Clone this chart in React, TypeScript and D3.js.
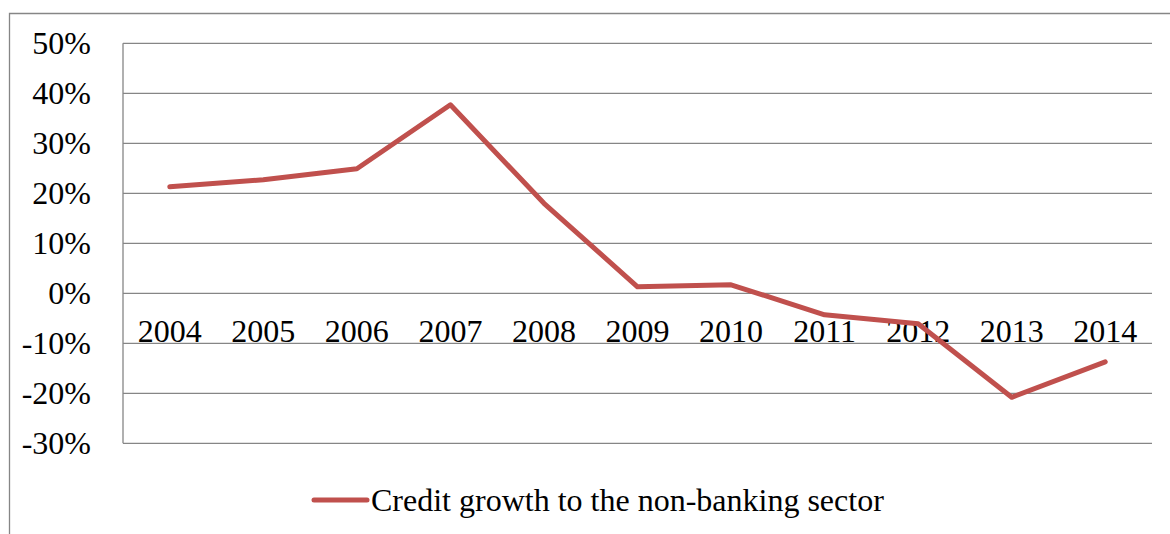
import React from "react";
import * as d3 from "d3";

const years = ["2004","2005","2006","2007","2008","2009","2010","2011","2012","2013","2014"];
const creditGrowth = [21.3, 22.7, 24.9, 37.7, 18.0, 1.3, 1.7, -4.3, -6.1, -20.8, -13.7];
const yTicks = [50, 40, 30, 20, 10, 0, -10, -20, -30];
const seriesName = "Credit growth to the non-banking sector";

const W = 1170, H = 534;
const left = 123, right = 1152, top = 43.3, bottom = 443.3;
const FONT = "Liberation Serif, Times New Roman, serif";
const FS = 32;

export default function App() {
  const x = d3.scaleBand().domain(years).range([left, right]);
  const y = d3.scaleLinear().domain([-30, 50]).range([bottom, top]);
  const line = d3.line<number>()
    .x((_, i) => (x(years[i]) as number) + x.bandwidth() / 2)
    .y((d) => y(d));
  return (
    <svg width={W} height={H} style={{ position: "fixed", left: 0, top: 0 }}>
      <rect x={0} y={0} width={W} height={H} fill="#fff" />
      <path d={`M9.5,${H}V13.5H${W}`} fill="none" stroke="#868686" strokeWidth={1.3} />
      {yTicks.map((t) => (
        <g key={t}>
          <line x1={left} x2={right} y1={y(t)} y2={y(t)} stroke="#868686" strokeWidth={1.3} />
          <text x={91} y={y(t) + 10.5} textAnchor="end" fontFamily={FONT} fontSize={FS} fill="#000">{t}%</text>
        </g>
      ))}
      <line x1={left} x2={left} y1={top} y2={bottom} stroke="#868686" strokeWidth={1.3} />
      {years.map((yr) => (
        <text key={yr} x={(x(yr) as number) + x.bandwidth() / 2} y={341.5} textAnchor="middle" fontFamily={FONT} fontSize={FS} fill="#000">{yr}</text>
      ))}
      <path d={line(creditGrowth) || ""} fill="none" stroke="#C0504D" strokeWidth={5} strokeLinejoin="round" strokeLinecap="round" />
      <line x1={314} x2={367} y1={500} y2={500} stroke="#C0504D" strokeWidth={5} strokeLinecap="round" />
      <text x={371} y={510.5} fontFamily={FONT} fontSize={FS} fill="#000">{seriesName}</text>
    </svg>
  );
}
